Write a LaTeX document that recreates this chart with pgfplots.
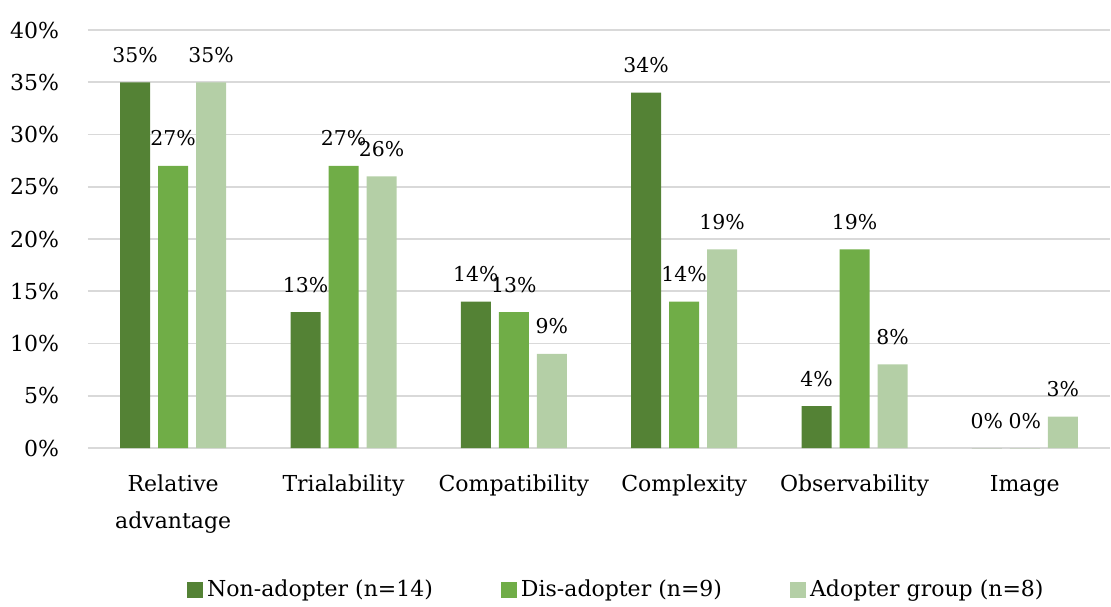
\documentclass[border=0pt]{standalone}
\usepackage{pgfplots}
\pgfplotsset{compat=1.18}
\usepackage{fontspec}
\setmainfont{DejaVu Serif}
\definecolor{c1}{HTML}{548235}
\definecolor{c2}{HTML}{70AD47}
\definecolor{c3}{HTML}{B4CFA6}
\definecolor{gridc}{HTML}{D9D9D9}
\begin{document}
\begin{tikzpicture}
\useasboundingbox (-44pt,-79pt) rectangle (511.5pt,224pt);
\begin{axis}[
  scale only axis, width=511pt, height=209pt,
  ybar=4pt, bar width=15pt,
  ymin=0, ymax=40, ytick={0,5,...,40},
  xmin=-0.5, xmax=5.5, xtick={0,...,5},
  xticklabels={Relative\\advantage, Trialability, Compatibility, Complexity, Observability, Image},
  xticklabel style={align=center, font=\fontsize{11}{18.5}\selectfont, yshift=-10pt},
  yticklabel={\pgfmathprintnumber{\tick}\%},
  yticklabel style={font=\fontsize{11}{13}\selectfont, xshift=-11pt},
  /pgf/number format/assume math mode=true,
  axis line style={draw=none},
  major tick length=0pt,
  ymajorgrids, major grid style={gridc, line width=0.8pt},
  nodes near coords={\pgfmathprintnumber{\pgfplotspointmeta}\%},
  nodes near coords style={font=\fontsize{10.2}{12}\selectfont, text=black, anchor=base, yshift=10pt},
  legend style={at={(0.518,-0.34)}, anchor=center, draw=none, legend columns=3,
    font=\fontsize{11}{13}\selectfont,
    /tikz/every even column/.append style={column sep=32pt}},
  legend image code/.code={\fill[#1] (0pt,-4pt) rectangle (8pt,4pt);},
]
\addplot[fill=c1, draw=none] coordinates {(0,35) (1,13) (2,14) (3,34) (4,4) (5,0)};
\addplot[fill=c2, draw=none] coordinates {(0,27) (1,27) (2,13) (3,14) (4,19) (5,0)};
\addplot[fill=c3, draw=none] coordinates {(0,35) (1,26) (2,9) (3,19) (4,8) (5,3)};
\legend{Non-adopter (n=14), Dis-adopter (n=9), Adopter group (n=8)}
\end{axis}
\end{tikzpicture}
\end{document}
